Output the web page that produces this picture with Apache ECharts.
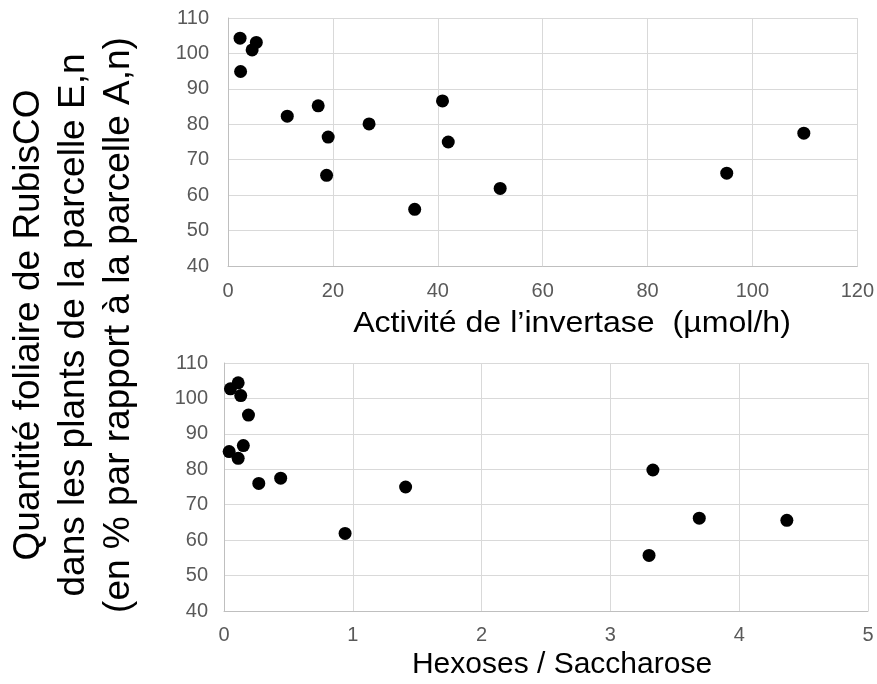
<!DOCTYPE html>
<html>
<head>
<meta charset="utf-8">
<script src="https://cdn.jsdelivr.net/npm/echarts@6/dist/echarts.min.js"></script>
<style>
  html, body { margin: 0; padding: 0; background: #fff; }
  #chart { width: 877px; height: 684px; }
</style>
</head>
<body>
<div id="chart"></div>
<script>
// invertase activity (µmol/h) vs RubisCO (%)
const invertaseX = [2.3, 2.4, 4.6, 5.4, 11.3, 17.2, 19.1, 18.8, 26.9, 35.6, 40.9, 42.0, 51.9, 95.1, 109.8]
const invertaseY = [104.3, 94.9, 101.0, 103.1, 82.3, 85.2, 76.4, 65.6, 80.1, 56.0, 86.6, 75.0, 61.9, 66.2, 77.5]

// hexoses / saccharose ratio vs RubisCO (%)
const ratioX = [0.11, 0.05, 0.13, 0.19, 0.15, 0.04, 0.11, 0.27, 0.44, 1.41, 0.94, 3.33, 3.69, 4.37, 3.30]
const ratioY = [104.4, 102.7, 100.8, 95.3, 86.7, 85.0, 83.1, 76.0, 77.5, 75.0, 61.9, 79.8, 66.2, 65.6, 55.7]

const yTitle = [
  'Quantité foliaire de RubisCO',
  'dans les plants de la parcelle E,n',
  '(en % par rapport à la parcelle A,n)',
]
const xTitleTop = 'Activité de l’invertase  (µmol/h)'
const xTitleBottom = 'Hexoses / Saccharose'

const font = 'Liberation Sans, Arial, sans-serif'
const tickColor = '#595959'
const gridColor = '#d9d9d9'
const axisColor = '#bfbfbf'

const zip = (xs, ys) => xs.map((x, i) => [x, ys[i]])

const valueAxis = (extra, margin) => Object.assign({
  type: 'value',
  axisLine: { show: true, lineStyle: { color: axisColor, width: 1 } },
  axisTick: { show: false },
  splitLine: { show: true, lineStyle: { color: gridColor, width: 1 } },
  axisLabel: { color: tickColor, fontSize: 20, fontFamily: font, margin: margin },
}, extra)

const chart = echarts.init(document.getElementById('chart'))

chart.setOption({
  animation: false,
  grid: [
    { left: 228, right: 18, top: 18, height: 248 },
    { left: 224, right: 9, top: 363, height: 248 },
  ],
  xAxis: [
    valueAxis({ gridIndex: 0, min: 0, max: 120, interval: 20 }, 15),
    valueAxis({ gridIndex: 1, min: 0, max: 5, interval: 1 }, 14),
  ],
  yAxis: [
    valueAxis({ gridIndex: 0, min: 40, max: 110, interval: 10 }, 19),
    valueAxis({ gridIndex: 1, min: 40, max: 110, interval: 10 }, 16),
  ],
  series: [
    {
      type: 'scatter',
      xAxisIndex: 0,
      yAxisIndex: 0,
      symbolSize: 13,
      itemStyle: { color: '#000', opacity: 1 },
      data: zip(invertaseX, invertaseY),
    },
    {
      type: 'scatter',
      xAxisIndex: 1,
      yAxisIndex: 1,
      symbolSize: 13,
      itemStyle: { color: '#000', opacity: 1 },
      data: zip(ratioX, ratioY),
    },
  ],
  graphic: [
    {
      type: 'text',
      x: 74,
      y: 325,
      rotation: Math.PI / 2,
      style: {
        text: yTitle.join('\n'),
        fill: '#000',
        fontSize: 37,
        fontFamily: font,
        lineHeight: 45,
        align: 'center',
        verticalAlign: 'middle',
      },
    },
    {
      type: 'text',
      x: 572,
      y: 324,
      scaleX: 1.07,
      style: {
        text: xTitleTop,
        fill: '#000',
        fontSize: 30,
        fontFamily: font,
        align: 'center',
        verticalAlign: 'middle',
      },
    },
    {
      type: 'text',
      x: 562,
      y: 665,
      style: {
        text: xTitleBottom,
        fill: '#000',
        fontSize: 30,
        fontFamily: font,
        align: 'center',
        verticalAlign: 'middle',
      },
    },
  ],
})
</script>
</body>
</html>
